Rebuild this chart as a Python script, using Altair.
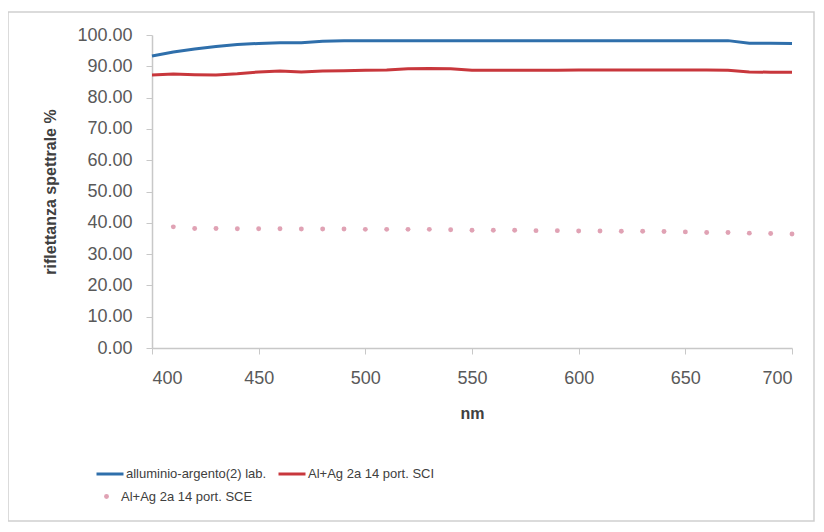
import altair as alt
import pandas as pd

wl = [400, 410, 420, 430, 440, 450, 460, 470, 480, 490, 500, 510, 520, 530, 540, 550,
      560, 570, 580, 590, 600, 610, 620, 630, 640, 650, 660, 670, 680, 690, 700]

blue_vals = [93.3, 94.6, 95.5, 96.3, 97.0, 97.3, 97.5, 97.5, 98.0, 98.2, 98.2, 98.2, 98.2, 98.2, 98.2, 98.2,
             98.2, 98.2, 98.2, 98.2, 98.2, 98.2, 98.2, 98.2, 98.2, 98.2, 98.2, 98.2, 97.4, 97.4, 97.3]
red_vals = [87.2, 87.5, 87.3, 87.2, 87.6, 88.2, 88.5, 88.2, 88.5, 88.6, 88.7, 88.8, 89.2, 89.3, 89.2, 88.7,
            88.7, 88.7, 88.7, 88.7, 88.8, 88.8, 88.8, 88.8, 88.8, 88.8, 88.8, 88.7, 88.2, 88.1, 88.1]

sce_wl = wl[1:]
sce_vals = [38.7, 38.2, 38.2, 38.1, 38.1, 38.1, 38.0, 38.0, 38.0, 37.9, 37.9, 37.9, 37.9, 37.8, 37.6,
            37.6, 37.6, 37.5, 37.5, 37.4, 37.4, 37.3, 37.3, 37.2, 37.1, 36.9, 36.9, 36.7, 36.6, 36.4]

names = ["alluminio-argento(2)  lab.", "Al+Ag 2a 14 port. SCI", "Al+Ag 2a 14 port. SCE"]
line_colors = ["#2f6fab", "#c8373c"]
dot_color = "#e0a2b4"

x_ticks = [400, 450, 500, 550, 600, 650, 700]
y_ticks = [0, 10, 20, 30, 40, 50, 60, 70, 80, 90, 100]

lines_df = pd.DataFrame({
    "nm": wl + wl,
    "val": blue_vals + red_vals,
    "serie": [names[0]] * len(wl) + [names[1]] * len(wl),
})
dots_df = pd.DataFrame({"nm": sce_wl, "val": sce_vals, "serie": [names[2]] * len(sce_wl)})

FONT = "Liberation Sans"

x_enc = alt.X("nm:Q", scale=alt.Scale(domain=[400, 700], nice=False, zero=False),
              axis=alt.Axis(values=x_ticks, title="nm", format="d", tickSize=6,
                            labelPadding=15, titlePadding=18, grid=False,
                            labelOverlap=False))
y_enc = alt.Y("val:Q", scale=alt.Scale(domain=[0, 100], nice=False),
              axis=alt.Axis(values=y_ticks, title="riflettanza spettrale %", format=".2f",
                            tickSize=6, labelPadding=14, titlePadding=18, grid=False,
                            labelOverlap=False))

lines = alt.Chart(lines_df).mark_line(strokeWidth=3).encode(
    x=x_enc, y=y_enc,
    color=alt.Color("serie:N", scale=alt.Scale(domain=names[:2], range=line_colors),
                    legend=alt.Legend(title=None, orient="none", legendX=-57, legendY=424,
                                      direction="horizontal", symbolType="stroke",
                                      symbolSize=729, symbolStrokeWidth=3, labelOffset=1,
                                      columnPadding=2, padding=0, labelFontSize=13,
                                      labelFont=FONT, labelColor="#404040")),
)

dots = alt.Chart(dots_df).mark_circle(size=24, opacity=1).encode(
    x=x_enc, y=y_enc,
    color=alt.Color("serie:N", scale=alt.Scale(domain=[names[2]], range=[dot_color]),
                    legend=alt.Legend(title=None, orient="none", legendX=-52, legendY=455,
                                      symbolType="circle", symbolSize=24, labelOffset=8,
                                      padding=0, labelFontSize=13, labelFont=FONT,
                                      labelColor="#404040")),
)

frame = alt.Chart(pd.DataFrame({"k": [0]})).mark_rect(
    fill=None, stroke="#cfcfcf", strokeWidth=1.5
).encode(x=alt.value(-144), x2=alt.value(662), y=alt.value(-23), y2=alt.value(486))

chart = alt.layer(frame, lines, dots).resolve_scale(color="independent").properties(
    width=640, height=313,
    background="white",
    autosize=alt.AutoSizeParams(type="none"),
    padding={"left": 144, "top": 27, "right": 24, "bottom": 180},
).configure_view(stroke=None).configure_axis(
    grid=False, domainColor="#c8c8c8", tickColor="#c8c8c8", domainWidth=1.5,
    labelFont=FONT, labelFontSize=18, labelColor="#595959",
    titleFont=FONT, titleFontSize=16, titleFontWeight="bold", titleColor="#404040",
)

chart.save("out.html", embed_options={"renderer": "svg", "actions": False})
